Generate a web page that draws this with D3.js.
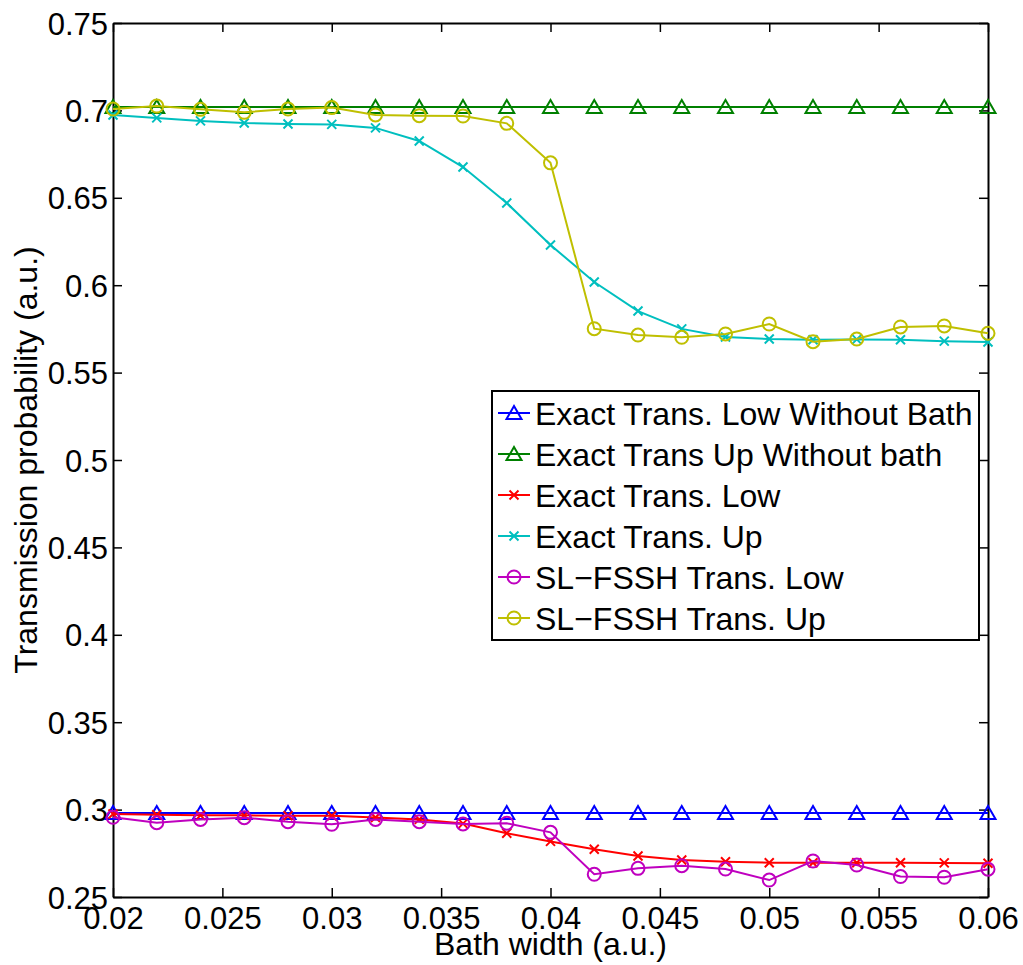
<!DOCTYPE html>
<html>
<head>
<meta charset="utf-8">
<script src="https://cdn.jsdelivr.net/npm/d3@7"></script>
<style>
  body { margin: 0; background: #fff; }
  text { font-family: "Liberation Sans", Arial, sans-serif; }
</style>
</head>
<body>
<svg id="chart"></svg>
<script>
// bath width values (x)
var bathWidth = [0.02, 0.022, 0.024, 0.026, 0.028, 0.03, 0.032, 0.034, 0.036, 0.038, 0.04,
                 0.042, 0.044, 0.046, 0.048, 0.05, 0.052, 0.054, 0.056, 0.058, 0.06];

var lowNoBath = [0.298, 0.298, 0.298, 0.298, 0.298, 0.298, 0.298, 0.298, 0.298, 0.298, 0.298,
                 0.298, 0.298, 0.298, 0.298, 0.298, 0.298, 0.298, 0.298, 0.298, 0.298];
var upNoBath  = [0.702, 0.702, 0.702, 0.702, 0.702, 0.702, 0.702, 0.702, 0.702, 0.702, 0.702,
                 0.702, 0.702, 0.702, 0.702, 0.702, 0.702, 0.702, 0.702, 0.702, 0.702];
var exactLow  = [0.2975, 0.2971, 0.2967, 0.2967, 0.2965, 0.2965, 0.2955, 0.2944, 0.292, 0.2865, 0.2818,
                 0.2773, 0.2735, 0.2712, 0.2702, 0.2696, 0.2696, 0.2696, 0.2696, 0.2695, 0.2693];
var exactUp   = [0.6974, 0.6957, 0.694, 0.6928, 0.6922, 0.692, 0.690, 0.6825, 0.6676, 0.647, 0.623,
                 0.6018, 0.5852, 0.575, 0.5704, 0.5692, 0.5688, 0.569, 0.5688, 0.568, 0.5675];
var fsshLow   = [0.2956, 0.2925, 0.2944, 0.2954, 0.2931, 0.2916, 0.2944, 0.2931, 0.2918, 0.2922, 0.287,
                 0.263, 0.2664, 0.2679, 0.266, 0.2597, 0.2706, 0.2683, 0.2617, 0.2613, 0.2659];
var fsshUp    = [0.7008, 0.7025, 0.7006, 0.6989, 0.7008, 0.7016, 0.6974, 0.697, 0.6968, 0.6926, 0.670,
                 0.5751, 0.5715, 0.5702, 0.5721, 0.5778, 0.5677, 0.5692, 0.5761, 0.5767, 0.5725];

var seriesNames = ["Exact Trans. Low Without Bath", "Exact Trans Up Without bath", "Exact Trans. Low",
                   "Exact Trans. Up", "SL\u2212FSSH Trans. Low", "SL\u2212FSSH Trans. Up"];
var seriesValues = [lowNoBath, upNoBath, exactLow, exactUp, fsshLow, fsshUp];
var seriesColors = ["#0000ff", "#008000", "#ff0000", "#00bfbf", "#bf00bf", "#bfbf00"];
var seriesMarkers = ["triangle", "triangle", "x", "x", "circle", "circle"];

var xTicks = [0.02, 0.025, 0.03, 0.035, 0.04, 0.045, 0.05, 0.055, 0.06];
var yTicks = [0.25, 0.3, 0.35, 0.4, 0.45, 0.5, 0.55, 0.6, 0.65, 0.7, 0.75];

var width = 1023, height = 965;
var mLeft = 113, mRight = 988, mTop = 23, mBottom = 897;
var tickFont = 31, labelFont = 32;

var svg = d3.select("#chart").attr("width", width).attr("height", height);

var x = d3.scaleLinear().domain([0.02, 0.06]).range([mLeft, mRight]);
var y = d3.scaleLinear().domain([0.25, 0.75]).range([mBottom, mTop]);

function drawMarker(g, type, cx, cy, color) {
    if (type == "triangle") {
        g.append("path")
            .attr("d", "M" + (cx - 7.5) + "," + (cy + 6) + "L" + cx + "," + (cy - 7) + "L" + (cx + 7.5) + "," + (cy + 6) + "Z")
            .attr("fill", "none").attr("stroke", color).attr("stroke-width", 2);
    } else if (type == "circle") {
        g.append("circle").attr("cx", cx).attr("cy", cy).attr("r", 6.5)
            .attr("fill", "none").attr("stroke", color).attr("stroke-width", 2);
    } else {
        var s = 4.5;
        g.append("path")
            .attr("d", "M" + (cx - s) + "," + (cy - s) + "L" + (cx + s) + "," + (cy + s) +
                       "M" + (cx - s) + "," + (cy + s) + "L" + (cx + s) + "," + (cy - s))
            .attr("stroke", color).attr("stroke-width", 2);
    }
}

// axes (box with inward ticks)
var xAxisB = d3.axisBottom(x).tickValues(xTicks).tickSizeInner(-9).tickSizeOuter(0).tickPadding(14)
    .tickFormat(function(d) { return d3.format("")(+d.toFixed(3)); });
var xAxisT = d3.axisTop(x).tickValues(xTicks).tickSizeInner(-9).tickSizeOuter(0).tickFormat("");
var yAxisL = d3.axisLeft(y).tickValues(yTicks).tickSizeInner(-9).tickSizeOuter(0).tickPadding(14)
    .tickFormat(function(d) { return d3.format("")(+d.toFixed(2)); });
var yAxisR = d3.axisRight(y).tickValues(yTicks).tickSizeInner(-9).tickSizeOuter(0).tickFormat("");

var gx = svg.append("g").attr("transform", "translate(0," + mBottom + ")").call(xAxisB);
svg.append("g").attr("transform", "translate(0," + mTop + ")").call(xAxisT);
var gy = svg.append("g").attr("transform", "translate(" + mLeft + ",0)").call(yAxisL);
svg.append("g").attr("transform", "translate(" + mRight + ",0)").call(yAxisR);

svg.selectAll(".domain").attr("stroke", "#000").attr("stroke-width", 2);
svg.selectAll(".tick line").attr("stroke", "#000").attr("stroke-width", 1.5);
svg.selectAll(".tick text").attr("font-size", tickFont).attr("fill", "#000")
    .style("font-family", "Liberation Sans, Arial, sans-serif");
gx.selectAll(".tick text").attr("y", 10).attr("dy", "0.71em");
gy.selectAll(".tick text").attr("dy", "0.36em").attr("x", -5);

// series lines and markers
for (var s = 0; s < seriesValues.length; s++) {
    var pts = bathWidth.map(function(b, i) { return [b, seriesValues[s][i]]; });
    var g = svg.append("g");
    g.append("path")
        .datum(pts)
        .attr("fill", "none")
        .attr("stroke", seriesColors[s])
        .attr("stroke-width", 2)
        .attr("d", d3.line().x(function(d) { return x(d[0]); }).y(function(d) { return y(d[1]); }));
    for (var p = 0; p < pts.length; p++) {
        drawMarker(g, seriesMarkers[s], x(pts[p][0]), y(pts[p][1]), seriesColors[s]);
    }
}

// axis labels
svg.append("text")
    .attr("x", (mLeft + mRight) / 2)
    .attr("y", 955)
    .attr("text-anchor", "middle")
    .attr("font-size", labelFont)
    .text("Bath width (a.u.)");

svg.append("text")
    .attr("transform", "translate(37," + ((mTop + mBottom) / 2) + ") rotate(-90)")
    .attr("text-anchor", "middle")
    .attr("font-size", labelFont)
    .text("Transmission probability (a.u.)");

// legend
var legend = svg.append("g");
legend.append("rect")
    .attr("x", 492).attr("y", 391)
    .attr("width", 487).attr("height", 249)
    .attr("fill", "#fff").attr("stroke", "#000").attr("stroke-width", 2);

for (var k = 0; k < seriesNames.length; k++) {
    var ly = 413 + k * 41;
    legend.append("line")
        .attr("x1", 498).attr("x2", 530).attr("y1", ly).attr("y2", ly)
        .attr("stroke", seriesColors[k]).attr("stroke-width", 2);
    drawMarker(legend, seriesMarkers[k], 514, ly, seriesColors[k]);
    legend.append("text")
        .attr("x", 535).attr("y", ly)
        .attr("dy", "0.36em")
        .attr("font-size", labelFont)
        .text(seriesNames[k]);
}
</script>
</body>
</html>
